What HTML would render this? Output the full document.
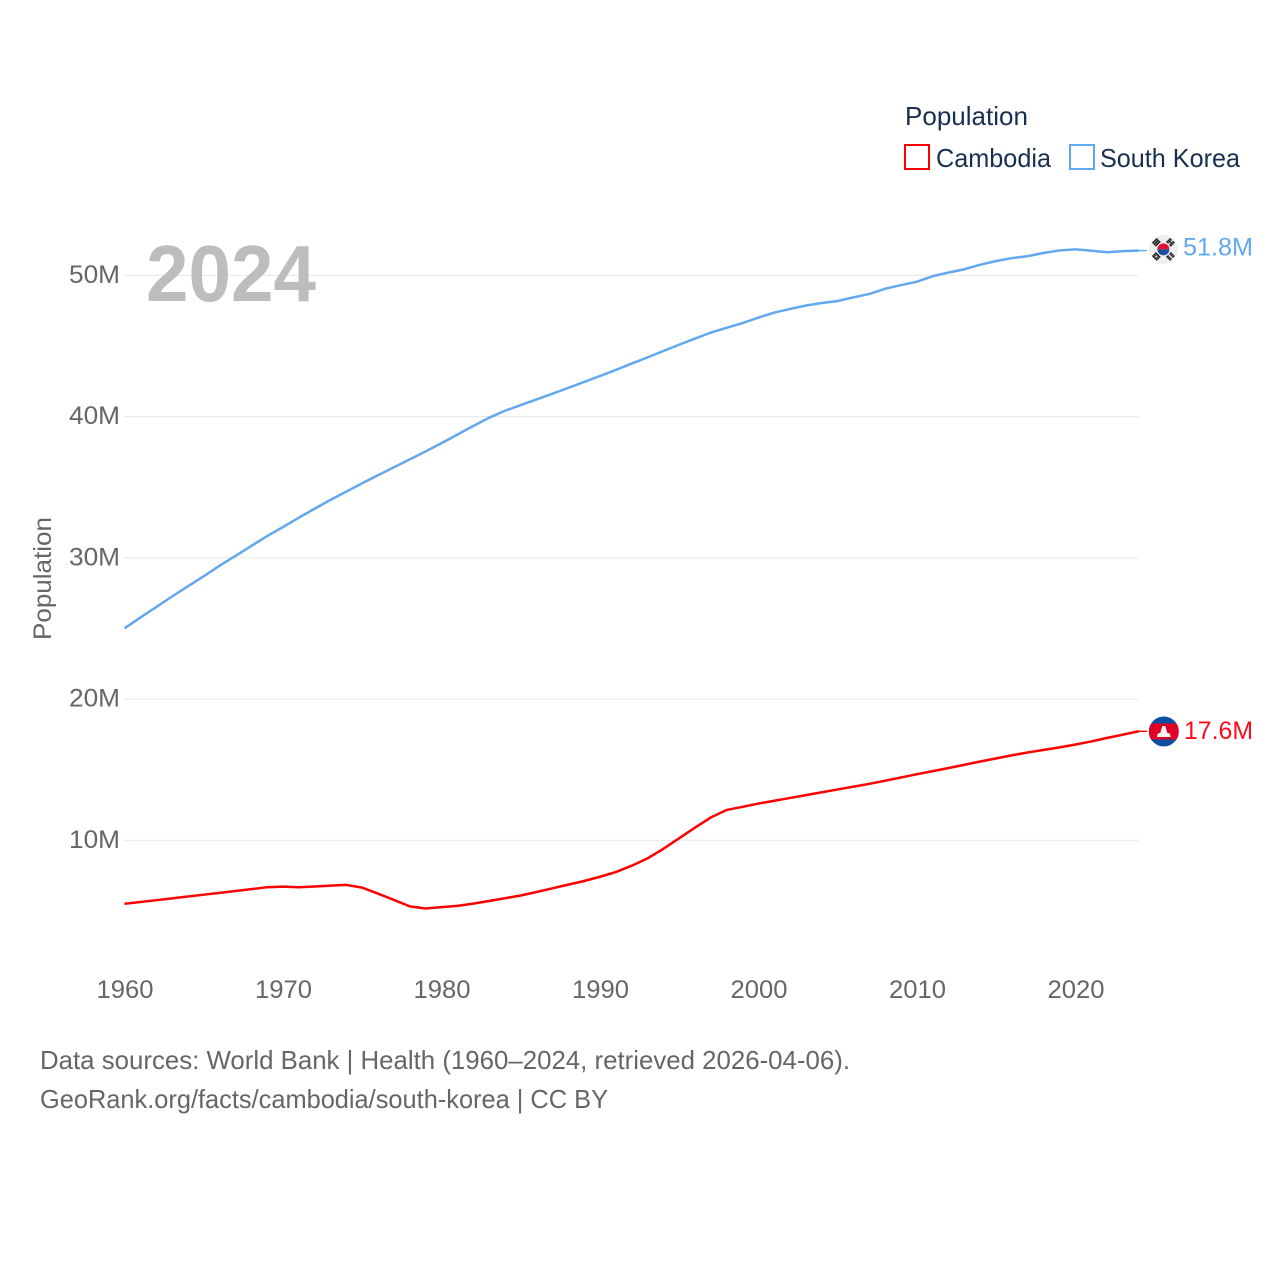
<!DOCTYPE html>
<html lang="en">
<head>
<meta charset="utf-8">
<title>Population: Cambodia and South Korea</title>
<style>
html,body{margin:0;padding:0;background:#fff;}
svg{display:block;font-family:"Liberation Sans",sans-serif;}
</style>
</head>
<body>
<svg id="chart" xmlns="http://www.w3.org/2000/svg" width="1280" height="1280" viewBox="0 0 1280 1280">
  <rect x="0" y="0" width="1280" height="1280" fill="#ffffff"/>
  <g id="grid"></g>
  <text x="146" y="301" font-size="80" font-weight="700" fill="#bdbdbd" textLength="170" lengthAdjust="spacingAndGlyphs">2024</text>
  <g id="yticks"></g>
  <g id="xticks"></g>
  <text transform="translate(51,640) rotate(-90)" font-size="25" fill="#666666" textLength="123" lengthAdjust="spacingAndGlyphs">Population</text>
  <g id="series"></g>

  <g>
    <text x="905" y="125" font-size="26" fill="#1a2f50" textLength="123" lengthAdjust="spacingAndGlyphs">Population</text>
    <g>
      <rect x="905" y="145" width="24" height="24" fill="none" stroke="#ff0000" stroke-width="2"/>
      <text x="936" y="167" font-size="26" fill="#1a2f50" textLength="115" lengthAdjust="spacingAndGlyphs">Cambodia</text>
    </g>
    <g>
      <rect x="1070" y="145" width="24" height="24" fill="none" stroke="#62a8ee" stroke-width="2"/>
      <text x="1100" y="167" font-size="26" fill="#1a2f50" textLength="140" lengthAdjust="spacingAndGlyphs">South Korea</text>
    </g>
  </g>

  <g id="flag-kr">
    <circle cx="0" cy="0" r="14.5" fill="#efefef"/>
    <path d="M-6 0A6 6 0 0 1 6 0Z" fill="#e0142f"/>
    <path d="M-6 0A6 6 0 0 0 6 0Z" fill="#1a4ea0"/>
    <g stroke="#1c1c1c" stroke-width="1.6" fill="none">
      <path transform="rotate(-45)" d="M-3.5 -8H3.5M-3.5 -10H3.5M-3.5 -12H3.5"/>
      <path transform="rotate(45)" d="M-3.5 -8H-.6M.6 -8H3.5M-3.5 -10H3.5M-3.5 -12H-.6M.6 -12H3.5"/>
      <path transform="rotate(135)" d="M-3.5 -8H-.6M.6 -8H3.5M-3.5 -10H-.6M.6 -10H3.5M-3.5 -12H-.6M.6 -12H3.5"/>
      <path transform="rotate(225)" d="M-3.5 -8H3.5M-3.5 -10H-.6M.6 -10H3.5M-3.5 -12H3.5"/>
    </g>
  </g>

  <g id="flag-kh">
    <clipPath id="kh-clip"><circle cx="0" cy="0" r="15"/></clipPath>
    <g clip-path="url(#kh-clip)">
      <rect x="-15" y="-15" width="30" height="30" fill="#0b4ea2"/>
      <rect x="-15" y="-8" width="30" height="16" fill="#e00025"/>
      <path d="M-7 5.5L-6 2L-3.5 1.5L-1.5 -5.5L1.5 -5.5L3.5 1.5L6 2L7 5.5Z" fill="#f2f2f2"/>
    </g>
  </g>

  <g id="end-labels"></g>

  <g>
    <text x="40" y="1069" font-size="26" fill="#666666" textLength="810" lengthAdjust="spacingAndGlyphs">Data sources: World Bank | Health (1960–2024, retrieved 2026-04-06).</text>
    <text x="40" y="1108" font-size="26" fill="#666666" textLength="568" lengthAdjust="spacingAndGlyphs">GeoRank.org/facts/cambodia/south-korea | CC BY</text>
  </g>
</svg>
<script>
const years = [1960,1961,1962,1963,1964,1965,1966,1967,1968,1969,1970,1971,1972,1973,1974,1975,1976,1977,1978,1979,1980,1981,1982,1983,1984,1985,1986,1987,1988,1989,1990,1991,1992,1993,1994,1995,1996,1997,1998,1999,2000,2001,2002,2003,2004,2005,2006,2007,2008,2009,2010,2011,2012,2013,2014,2015,2016,2017,2018,2019,2020,2021,2022,2023,2024];
const southKorea = [25.01,25.77,26.51,27.26,27.98,28.70,29.44,30.13,30.84,31.54,32.18,32.84,33.48,34.10,34.69,35.28,35.85,36.41,36.97,37.53,38.12,38.72,39.33,39.91,40.41,40.81,41.21,41.62,42.03,42.45,42.87,43.30,43.75,44.19,44.64,45.09,45.52,45.95,46.29,46.62,47.01,47.36,47.62,47.86,48.04,48.18,48.44,48.68,49.05,49.31,49.55,49.94,50.20,50.43,50.75,51.01,51.22,51.36,51.59,51.76,51.84,51.74,51.63,51.71,51.75];
const cambodia = [5.51,5.63,5.76,5.89,6.02,6.15,6.28,6.41,6.54,6.68,6.72,6.68,6.73,6.79,6.84,6.65,6.22,5.78,5.32,5.17,5.27,5.36,5.52,5.70,5.90,6.09,6.34,6.60,6.86,7.12,7.42,7.75,8.20,8.72,9.40,10.15,10.90,11.62,12.15,12.37,12.60,12.80,13.00,13.20,13.40,13.60,13.80,14.00,14.22,14.45,14.68,14.90,15.12,15.35,15.58,15.80,16.02,16.22,16.40,16.58,16.78,17.00,17.25,17.48,17.72];
const yTickValues = [10,20,30,40,50];
const yTickLabels = ["10M","20M","30M","40M","50M"];
const xTickValues = [1960,1970,1980,1990,2000,2010,2020];
const xTickLabels = ["1960","1970","1980","1990","2000","2010","2020"];
const endLabelKorea = "51.8M";
const endLabelCambodia = "17.6M";

const SVG_NS = "http://www.w3.org/2000/svg";
function xScale(year){ return 124.5 + (year - 1960) * 15.85; }
function yScale(v){ return 840.3 - (v - 10) * 14.125; }
function make(tag, attrs, parent){
  const el = document.createElementNS(SVG_NS, tag);
  for (const k in attrs) el.setAttribute(k, attrs[k]);
  parent.appendChild(el);
  return el;
}

const gridG = document.getElementById("grid");
const yG = document.getElementById("yticks");
yTickValues.forEach(function(v, i){
  const line = make("line", {x1:124, x2:1138.5, y1:yScale(v), y2:yScale(v), stroke:"#e9e9e9", "stroke-width":1.2}, gridG);
  
  
  const t = make("text", {x:120, y:yScale(v)+7.5, "text-anchor":"end", "font-size":25, fill:"#666666", textLength:51, lengthAdjust:"spacingAndGlyphs"}, yG);
  
  
  t.textContent = yTickLabels[i];
});

const xG = document.getElementById("xticks");
xTickValues.forEach(function(v, i){
  const t = make("text", {x:xScale(v)+0.5, y:998, "text-anchor":"middle", "font-size":25, fill:"#666666", textLength:57, lengthAdjust:"spacingAndGlyphs"}, xG);
  
  
  t.textContent = xTickLabels[i];
});

function pathFor(values){
  return values.map(function(v, i){
    return (i ? "L" : "M") + xScale(years[i]).toFixed(2) + " " + yScale(v).toFixed(2);
  }).join("");
}
const seriesG = document.getElementById("series");
const krLine = make("path", {d:pathFor(southKorea), fill:"none", stroke:"#62a8ee", "stroke-width":2.5, "stroke-linejoin":"round"}, seriesG);


const khLine = make("path", {d:pathFor(cambodia), fill:"none", stroke:"#ff0000", "stroke-width":2.5, "stroke-linejoin":"round"}, seriesG);



const krEndY = yScale(southKorea[southKorea.length - 1]);
const khEndY = yScale(cambodia[cambodia.length - 1]);
const endX = xScale(2024);
const krLead = make("line", {x1:endX, x2:1147, y1:krEndY, y2:krEndY, stroke:"#62a8ee", "stroke-width":1.4}, seriesG);


const khLead = make("line", {x1:endX, x2:1147, y1:khEndY, y2:khEndY, stroke:"#ff0000", "stroke-width":1.4}, seriesG);



document.getElementById("flag-kr").setAttribute("transform", "translate(1163.4," + (krEndY - 1.2) + ")");
document.getElementById("flag-kh").setAttribute("transform", "translate(1163.8," + (khEndY + 0.2) + ")");

const labelsG = document.getElementById("end-labels");
const krLabel = make("text", {x:1183, y:krEndY+5, "font-size":25, fill:"#62a8ee", textLength:70, lengthAdjust:"spacingAndGlyphs"}, labelsG);


krLabel.textContent = endLabelKorea;
const khLabel = make("text", {x:1184, y:khEndY+7.5, "font-size":25, fill:"#ff0d1a", textLength:69, lengthAdjust:"spacingAndGlyphs"}, labelsG);


khLabel.textContent = endLabelCambodia;
</script>
</body>
</html>
